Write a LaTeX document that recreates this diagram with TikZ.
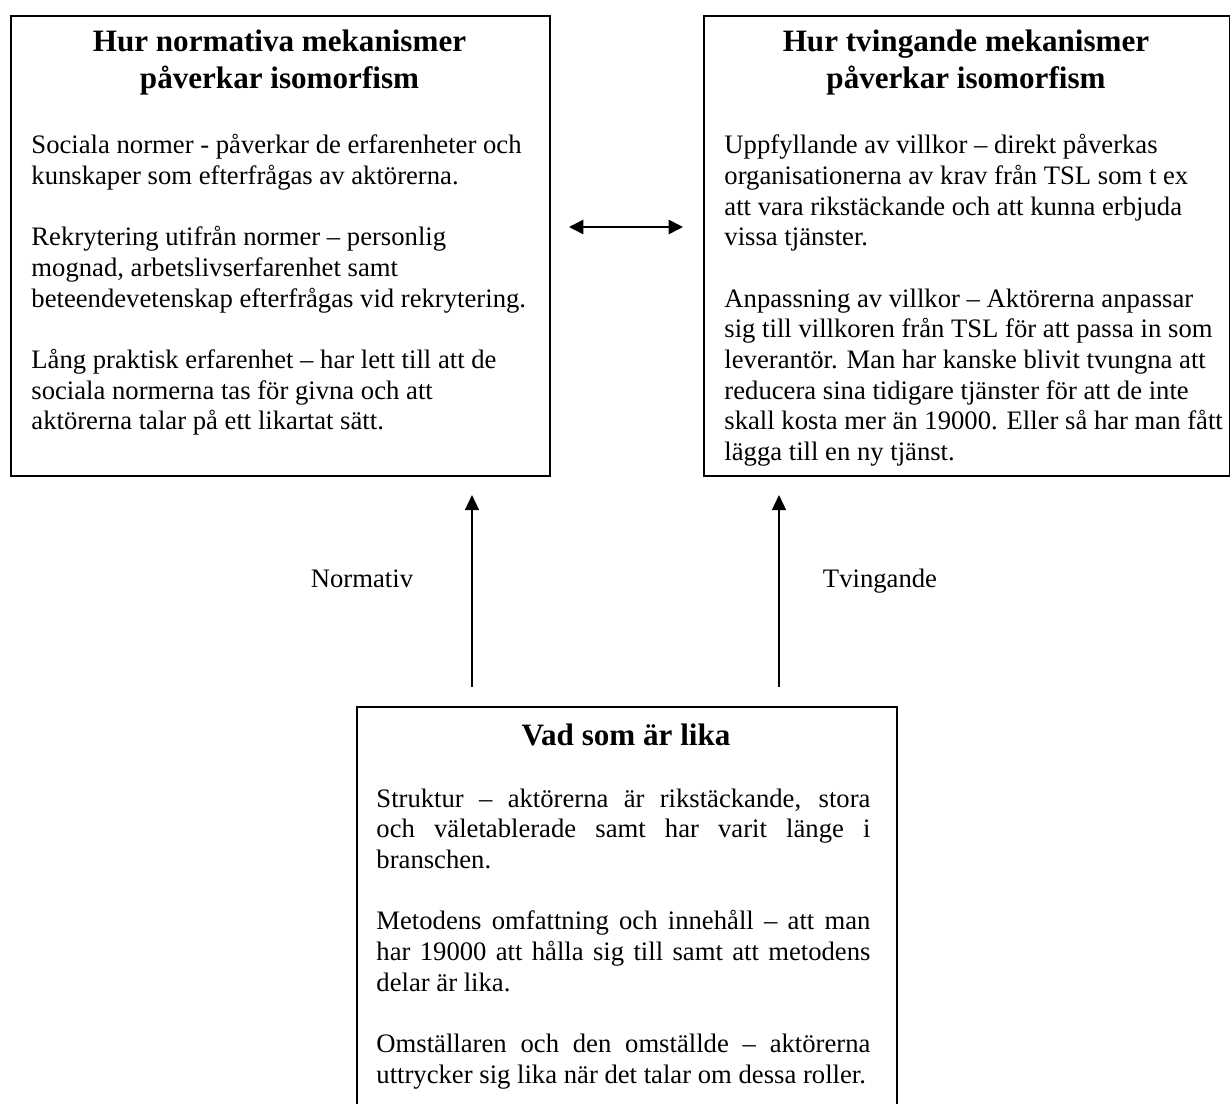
\documentclass[tikz,border=0pt]{standalone}
\usepackage{fontspec}
\setmainfont{Liberation Serif}
\usetikzlibrary{arrows.meta}
\begin{document}
\begin{tikzpicture}[x=0.45pt, y=-0.45pt,
  boxst/.style={draw, line width=0.9pt, rectangle, inner sep=0pt, anchor=north west},
  titlest/.style={inner sep=0pt, anchor=base, font=\fontsize{14pt}{16.5pt}\selectfont\bfseries},
  bodyst/.style={inner sep=0pt, anchor=base west, font=\fontsize{12pt}{13.8pt}\selectfont},
  lbl/.style={inner sep=0pt, anchor=base, font=\fontsize{12pt}{13.8pt}\selectfont},
  arr/.style={-{Triangle[length=6.8pt,width=6.3pt]}, line width=0.7pt},
  darr/.style={{Triangle[length=6.5pt,width=6.5pt]}-{Triangle[length=6.5pt,width=6.5pt]}, line width=0.7pt}
]
\useasboundingbox (0,0) rectangle (1230,1104);
\clip (0,0) rectangle (1230,1104);

% boxes
\node[boxst, minimum width=242.55pt, minimum height=207pt] (L) at (10,15) {};
\node[boxst, minimum width=236.5pt, minimum height=207pt] (R) at (703,15) {};
\node[boxst, minimum width=243pt, minimum height=200pt] (B) at (356,706) {};

% titles
\node[titlest] (Lt) at (279.5,52) {\parbox[t]{240pt}{\centering Hur normativa mekanismer\\ påverkar isomorfism}};
\node[titlest] (Rt) at (966,52) {\parbox[t]{235pt}{\centering Hur tvingande mekanismer\\ påverkar isomorfism}};
\node[titlest] (Bt) at (626,745) {\parbox[t]{240pt}{\centering Vad som är lika}};

% body texts
\node[bodyst] (Lb) at (31,154) {\parbox[t]{235pt}{\raggedright
Sociala normer - påverkar de erfarenheter och\\
kunskaper som efterfrågas av aktörerna.\\[13.8pt]
Rekrytering utifrån normer – personlig\\
mognad, arbetslivserfarenhet samt\\
beteendevetenskap efterfrågas vid rekrytering.\\[13.8pt]
Lång praktisk erfarenhet – har lett till att de\\
sociala normerna tas för givna och att\\
aktörerna talar på ett likartat sätt.}};

\node[bodyst] (Rb) at (724,154) {\parbox[t]{232pt}{\raggedright
Uppfyllande av villkor – direkt påverkas\\
organisationerna av krav från TSL som t ex\\
att vara rikstäckande och att kunna erbjuda\\
vissa tjänster.\\[13.8pt]
Anpassning av villkor – Aktörerna anpassar\\
sig till villkoren från TSL för att passa in som\\
leverantör. Man har kanske blivit tvungna att\\
reducera sina tidigare tjänster för att de inte\\
skall kosta mer än 19000. Eller så har man fått\\
lägga till en ny tjänst.}};

\node[bodyst] (Bb) at (376,807) {\parbox[t]{222.3pt}{\hbadness=10000
Struktur – aktörerna är rikstäckande, stora\linebreak
och väletablerade samt har varit länge i\linebreak
branschen.\par\vspace{13.8pt}
Metodens omfattning och innehåll – att man\linebreak
har 19000 att hålla sig till samt att metodens\linebreak
delar är lika.\par\vspace{13.8pt}
Omställaren och den omställde – aktörerna\linebreak
uttrycker sig lika när det talar om dessa roller.}};

% labels
\node[lbl] (nl) at (362,587) {Normativ};
\node[lbl] (tl) at (880,587) {Tvingande};

% connectors
\coordinate (d1) at (569,227);
\coordinate (d2) at (683,227);
\draw[darr] (d1) -- (d2);

\coordinate (a1s) at (472,687);
\coordinate (a1e) at (472,495);
\draw[arr] (a1s) -- (a1e);

\coordinate (a2s) at (779,687);
\coordinate (a2e) at (779,495);
\draw[arr] (a2s) -- (a2e);
\end{tikzpicture}
\end{document}
